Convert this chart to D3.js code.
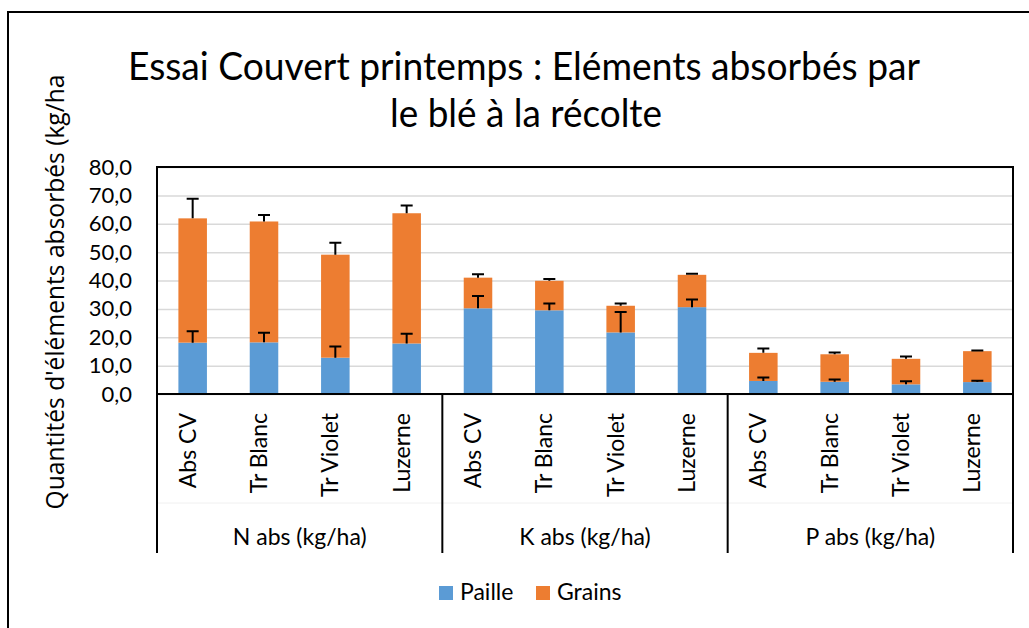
<!DOCTYPE html>
<html>
<head>
<meta charset="utf-8">
<script src="https://cdn.jsdelivr.net/npm/d3@7"></script>
<style>
  body { margin: 0; background: #fff; }
  text { font-family: Lato, "Open Sans", sans-serif; fill: #000; }
</style>
</head>
<body>
<svg id="chart" width="1029" height="628"></svg>
<script>
// values (kg/ha)
const groups = ["N abs (kg/ha)", "K abs (kg/ha)", "P abs (kg/ha)"];
const treatments = ["Abs CV", "Tr Blanc", "Tr Violet", "Luzerne"];
const paille = [[18.1, 18.2, 12.8, 17.8], [30.2, 29.5, 21.7, 30.6], [4.6, 4.3, 3.4, 4.2]];
const grains = [[43.8, 42.6, 36.3, 45.9], [10.8, 10.4, 9.4, 11.4], [9.9, 9.7, 9.0, 10.9]];
const pailleErr = [[4.0, 3.4, 3.9, 3.4], [4.3, 2.4, 7.2, 2.7], [1.2, 0.8, 1.1, 0.5]];
const grainsErr = [[6.9, 2.3, 4.2, 2.7], [1.2, 0.6, 0.8, 0.4], [1.5, 0.6, 0.8, 0.2]];
const yTicks = [0, 10, 20, 30, 40, 50, 60, 70, 80];
const seriesNames = ["Paille", "Grains"];
const colors = ["#5b9bd5", "#ed7d31"];

const svg = d3.select('#chart');

// fit a text element to a given length by tweaking its font size
function fitWidth(sel, target) {
  const node = sel.node();
  const size = parseFloat(sel.style('font-size'));
  const w = node.getComputedTextLength();
  sel.style('font-size', (size * target / w).toFixed(2) + 'px');
}

// outer frame (runs off the right and bottom edges)
svg.append('rect')
  .attr('x', 8).attr('y', 12)
  .attr('width', 1040).attr('height', 640)
  .attr('fill', 'none').attr('stroke', '#000').attr('stroke-width', 2);

const plotL = 157, plotR = 1013, plotT = 167, plotB = 394;

const yScale = d3.scaleLinear().domain([0, 80]).range([plotB, plotT]);
const groupScale = d3.scaleBand().domain(groups).range([plotL, plotR]);
const xScale = d3.scaleBand()
  .domain(treatments)
  .range([0, groupScale.bandwidth()])
  .paddingInner(0.6)
  .paddingOuter(0.3);

// gridlines
svg.append('g')
  .attr('transform', `translate(${plotL},0)`)
  .call(d3.axisLeft(yScale).tickValues(yTicks).tickSize(-(plotR - plotL)).tickFormat(''))
  .call(g => g.select('.domain').remove())
  .call(g => g.selectAll('line').attr('stroke', '#d9d9d9').attr('stroke-width', 1.5));

// y tick labels
svg.append('g')
  .attr('transform', `translate(${plotL},0)`)
  .call(d3.axisLeft(yScale).tickValues(yTicks).tickSize(0).tickPadding(25)
    .tickFormat(d => d3.format('.1f')(d).replace('.', ',')))
  .call(g => g.select('.domain').remove())
  .call(g => g.selectAll('text').style('font-size', '22px').attr('fill', '#000'));

// stacked bars
const rows = [];
groups.forEach((g, gi) => {
  treatments.forEach((t, ti) => {
    rows.push({
      group: g, treat: t,
      paille: paille[gi][ti], grains: grains[gi][ti],
      pErr: pailleErr[gi][ti], gErr: grainsErr[gi][ti]
    });
  });
});

const barX = d => groupScale(d.group) + xScale(d.treat);
const bw = xScale.bandwidth();

const bars = svg.append('g').selectAll('g').data(rows).enter().append('g');

bars.append('rect')
  .attr('x', barX)
  .attr('y', d => yScale(d.paille))
  .attr('width', bw)
  .attr('height', d => yScale(0) - yScale(d.paille))
  .attr('fill', colors[0]);

bars.append('rect')
  .attr('x', barX)
  .attr('y', d => yScale(d.paille + d.grains))
  .attr('width', bw)
  .attr('height', d => yScale(d.paille) - yScale(d.paille + d.grains))
  .attr('fill', colors[1]);

// error bars (plus only)
const cap = 6;
function errBar(base, err) {
  bars.append('path')
    .attr('d', d => {
      const cx = barX(d) + bw / 2;
      const y0 = yScale(base(d)), y1 = yScale(base(d) + err(d));
      return `M${cx},${y0}V${y1}M${cx - cap},${y1}H${cx + cap}`;
    })
    .attr('fill', 'none').attr('stroke', '#000').attr('stroke-width', 2);
}
errBar(d => d.paille, d => d.pErr);
errBar(d => d.paille + d.grains, d => d.gErr);

// plot border
svg.append('rect')
  .attr('x', plotL).attr('y', plotT)
  .attr('width', plotR - plotL).attr('height', plotB - plotT)
  .attr('fill', 'none').attr('stroke', '#000').attr('stroke-width', 2);

// multi-level category axis
const sepBottom = 553;
svg.append('line')
  .attr('x1', plotL).attr('x2', plotR).attr('y1', 503).attr('y2', 503)
  .attr('stroke', '#f0f0f0').attr('stroke-width', 1);

svg.append('g').selectAll('line')
  .data(groups.concat(['end']))
  .enter().append('line')
  .attr('x1', (d, i) => i < groups.length ? groupScale(d) : plotR)
  .attr('x2', (d, i) => i < groups.length ? groupScale(d) : plotR)
  .attr('y1', plotB).attr('y2', sepBottom)
  .attr('stroke', '#000').attr('stroke-width', 2);

svg.append('g').selectAll('text')
  .data(rows).enter().append('text')
  .attr('transform', d => `translate(${barX(d) + bw / 2 + 3},413) rotate(-90)`)
  .attr('text-anchor', 'end')
  .style('font-size', '23px')
  .text(d => d.treat);

svg.append('g').selectAll('text')
  .data(groups).enter().append('text')
  .attr('x', d => groupScale(d) + groupScale.bandwidth() / 2)
  .attr('y', 545)
  .attr('text-anchor', 'middle')
  .style('font-size', '23px')
  .text(d => d);

// title (Calibri-like proportions: tall glyphs squeezed to the original width)
svg.append('text')
  .attr('x', 524).attr('y', 80).attr('text-anchor', 'middle')
  .attr('textLength', 792).attr('lengthAdjust', 'spacingAndGlyphs')
  .style('font-size', '38px')
  .text('Essai Couvert printemps : Eléments absorbés par');
svg.append('text')
  .attr('x', 526).attr('y', 127).attr('text-anchor', 'middle')
  .attr('textLength', 272).attr('lengthAdjust', 'spacingAndGlyphs')
  .style('font-size', '38px')
  .text('le blé à la récolte');

// y axis title
const yt = svg.append('text')
  .attr('transform', 'translate(64,292) rotate(-90)')
  .attr('text-anchor', 'middle')
  .style('font-family', '"Open Sans", sans-serif')
  .style('font-size', '22px')
  .text("Quantités d'éléments absorbés (kg/ha");
fitWidth(yt, 435);

// legend
const legend = svg.append('g').selectAll('g')
  .data(seriesNames).enter().append('g')
  .attr('transform', (d, i) => `translate(${i === 0 ? 439 : 536},586)`);
legend.append('rect')
  .attr('width', 14).attr('height', 14)
  .attr('fill', (d, i) => colors[i]);
legend.append('text')
  .attr('x', 21).attr('y', 14)
  .style('font-size', '23px')
  .text(d => d);
</script>
</body>
</html>
